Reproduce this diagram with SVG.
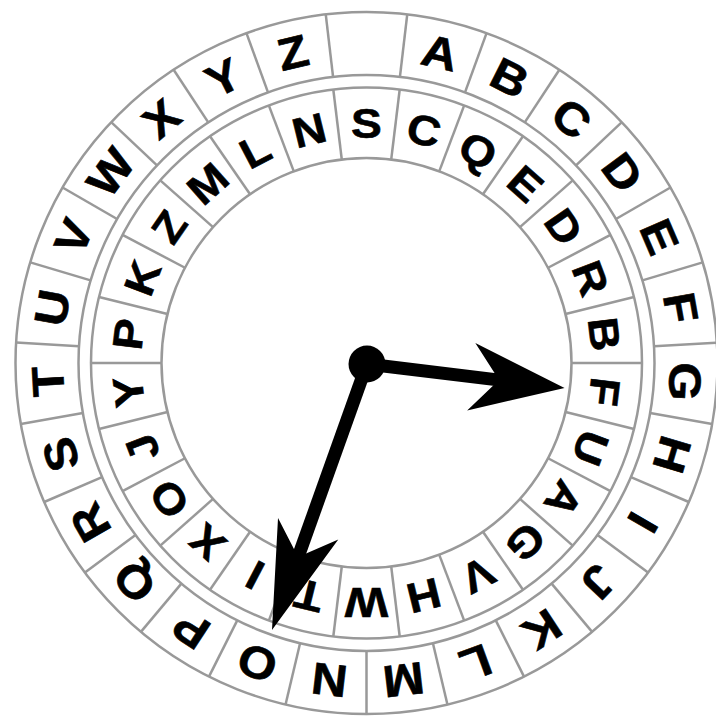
<svg xmlns="http://www.w3.org/2000/svg" width="716" height="717" viewBox="0 0 716 717">
<style>
.ring{fill:none;stroke:#999;stroke-width:2.5}
.div{stroke:#999;stroke-width:2.5}
.o{font-family:"Liberation Sans",Arial,sans-serif;font-weight:bold;font-size:45px;text-anchor:middle;fill:#000;stroke:#000;stroke-width:0.6}
.i{font-family:"Liberation Sans",Arial,sans-serif;font-weight:bold;font-size:42px;text-anchor:middle;fill:#000;stroke:#000;stroke-width:0.6}
</style>
<rect width="716" height="717" fill="#fff"/>
<g id="rings">
<circle class="ring" cx="366.5" cy="363" r="351"/>
<circle class="ring" cx="366.5" cy="363" r="288"/>
<circle class="ring" cx="366.5" cy="363" r="275.5"/>
<circle class="ring" cx="366.5" cy="363" r="205"/>
</g>
<g id="outer-dividers" class="div">
<line x1="366.5" y1="12" x2="366.5" y2="75" transform="rotate(6.667 366.5 363)"/>
<line x1="366.5" y1="12" x2="366.5" y2="75" transform="rotate(20 366.5 363)"/>
<line x1="366.5" y1="12" x2="366.5" y2="75" transform="rotate(33.333 366.5 363)"/>
<line x1="366.5" y1="12" x2="366.5" y2="75" transform="rotate(46.667 366.5 363)"/>
<line x1="366.5" y1="12" x2="366.5" y2="75" transform="rotate(60 366.5 363)"/>
<line x1="366.5" y1="12" x2="366.5" y2="75" transform="rotate(73.333 366.5 363)"/>
<line x1="366.5" y1="12" x2="366.5" y2="75" transform="rotate(86.667 366.5 363)"/>
<line x1="366.5" y1="12" x2="366.5" y2="75" transform="rotate(100 366.5 363)"/>
<line x1="366.5" y1="12" x2="366.5" y2="75" transform="rotate(113.333 366.5 363)"/>
<line x1="366.5" y1="12" x2="366.5" y2="75" transform="rotate(126.667 366.5 363)"/>
<line x1="366.5" y1="12" x2="366.5" y2="75" transform="rotate(140 366.5 363)"/>
<line x1="366.5" y1="12" x2="366.5" y2="75" transform="rotate(153.333 366.5 363)"/>
<line x1="366.5" y1="12" x2="366.5" y2="75" transform="rotate(166.667 366.5 363)"/>
<line x1="366.5" y1="12" x2="366.5" y2="75" transform="rotate(180 366.5 363)"/>
<line x1="366.5" y1="12" x2="366.5" y2="75" transform="rotate(193.333 366.5 363)"/>
<line x1="366.5" y1="12" x2="366.5" y2="75" transform="rotate(206.667 366.5 363)"/>
<line x1="366.5" y1="12" x2="366.5" y2="75" transform="rotate(220 366.5 363)"/>
<line x1="366.5" y1="12" x2="366.5" y2="75" transform="rotate(233.333 366.5 363)"/>
<line x1="366.5" y1="12" x2="366.5" y2="75" transform="rotate(246.667 366.5 363)"/>
<line x1="366.5" y1="12" x2="366.5" y2="75" transform="rotate(260 366.5 363)"/>
<line x1="366.5" y1="12" x2="366.5" y2="75" transform="rotate(273.333 366.5 363)"/>
<line x1="366.5" y1="12" x2="366.5" y2="75" transform="rotate(286.667 366.5 363)"/>
<line x1="366.5" y1="12" x2="366.5" y2="75" transform="rotate(300 366.5 363)"/>
<line x1="366.5" y1="12" x2="366.5" y2="75" transform="rotate(313.333 366.5 363)"/>
<line x1="366.5" y1="12" x2="366.5" y2="75" transform="rotate(326.667 366.5 363)"/>
<line x1="366.5" y1="12" x2="366.5" y2="75" transform="rotate(340 366.5 363)"/>
<line x1="366.5" y1="12" x2="366.5" y2="75" transform="rotate(353.333 366.5 363)"/>
</g>
<g id="inner-dividers" class="div">
<line x1="366.5" y1="87.5" x2="366.5" y2="158" transform="rotate(6.923 366.5 363)"/>
<line x1="366.5" y1="87.5" x2="366.5" y2="158" transform="rotate(20.769 366.5 363)"/>
<line x1="366.5" y1="87.5" x2="366.5" y2="158" transform="rotate(34.615 366.5 363)"/>
<line x1="366.5" y1="87.5" x2="366.5" y2="158" transform="rotate(48.462 366.5 363)"/>
<line x1="366.5" y1="87.5" x2="366.5" y2="158" transform="rotate(62.308 366.5 363)"/>
<line x1="366.5" y1="87.5" x2="366.5" y2="158" transform="rotate(76.154 366.5 363)"/>
<line x1="366.5" y1="87.5" x2="366.5" y2="158" transform="rotate(90 366.5 363)"/>
<line x1="366.5" y1="87.5" x2="366.5" y2="158" transform="rotate(103.846 366.5 363)"/>
<line x1="366.5" y1="87.5" x2="366.5" y2="158" transform="rotate(117.692 366.5 363)"/>
<line x1="366.5" y1="87.5" x2="366.5" y2="158" transform="rotate(131.538 366.5 363)"/>
<line x1="366.5" y1="87.5" x2="366.5" y2="158" transform="rotate(145.385 366.5 363)"/>
<line x1="366.5" y1="87.5" x2="366.5" y2="158" transform="rotate(159.231 366.5 363)"/>
<line x1="366.5" y1="87.5" x2="366.5" y2="158" transform="rotate(173.077 366.5 363)"/>
<line x1="366.5" y1="87.5" x2="366.5" y2="158" transform="rotate(186.923 366.5 363)"/>
<line x1="366.5" y1="87.5" x2="366.5" y2="158" transform="rotate(200.769 366.5 363)"/>
<line x1="366.5" y1="87.5" x2="366.5" y2="158" transform="rotate(214.615 366.5 363)"/>
<line x1="366.5" y1="87.5" x2="366.5" y2="158" transform="rotate(228.462 366.5 363)"/>
<line x1="366.5" y1="87.5" x2="366.5" y2="158" transform="rotate(242.308 366.5 363)"/>
<line x1="366.5" y1="87.5" x2="366.5" y2="158" transform="rotate(256.154 366.5 363)"/>
<line x1="366.5" y1="87.5" x2="366.5" y2="158" transform="rotate(270 366.5 363)"/>
<line x1="366.5" y1="87.5" x2="366.5" y2="158" transform="rotate(283.846 366.5 363)"/>
<line x1="366.5" y1="87.5" x2="366.5" y2="158" transform="rotate(297.692 366.5 363)"/>
<line x1="366.5" y1="87.5" x2="366.5" y2="158" transform="rotate(311.538 366.5 363)"/>
<line x1="366.5" y1="87.5" x2="366.5" y2="158" transform="rotate(325.385 366.5 363)"/>
<line x1="366.5" y1="87.5" x2="366.5" y2="158" transform="rotate(339.231 366.5 363)"/>
<line x1="366.5" y1="87.5" x2="366.5" y2="158" transform="rotate(353.077 366.5 363)"/>
</g>
<g id="outer-letters" class="o">
<text y="16.1" transform="rotate(13.333 366.5 363) translate(366.5 43.5) scale(1.1 1)">A</text>
<text y="16.1" transform="rotate(26.667 366.5 363) translate(366.5 43.5) scale(1.1 1)">B</text>
<text y="16.1" transform="rotate(40 366.5 363) translate(366.5 43.5) scale(1.1 1)">C</text>
<text y="16.1" transform="rotate(53.333 366.5 363) translate(366.5 43.5) scale(1.1 1)">D</text>
<text y="16.1" transform="rotate(66.667 366.5 363) translate(366.5 43.5) scale(1.1 1)">E</text>
<text y="16.1" transform="rotate(80 366.5 363) translate(366.5 43.5) scale(1.1 1)">F</text>
<text y="16.1" transform="rotate(93.333 366.5 363) translate(366.5 43.5) scale(1.1 1)">G</text>
<text y="16.1" transform="rotate(106.667 366.5 363) translate(366.5 43.5) scale(1.1 1)">H</text>
<text y="16.1" transform="rotate(120 366.5 363) translate(366.5 43.5) scale(1.1 1)">I</text>
<text y="16.1" transform="rotate(133.333 366.5 363) translate(366.5 43.5) scale(1.1 1)">J</text>
<text y="16.1" transform="rotate(146.667 366.5 363) translate(366.5 43.5) scale(1.1 1)">K</text>
<text y="16.1" transform="rotate(160 366.5 363) translate(366.5 43.5) scale(1.1 1)">L</text>
<text y="16.1" transform="rotate(173.333 366.5 363) translate(366.5 43.5) scale(1.1 1)">M</text>
<text y="16.1" transform="rotate(186.667 366.5 363) translate(366.5 43.5) scale(1.1 1)">N</text>
<text y="16.1" transform="rotate(200 366.5 363) translate(366.5 43.5) scale(1.1 1)">O</text>
<text y="16.1" transform="rotate(213.333 366.5 363) translate(366.5 43.5) scale(1.1 1)">P</text>
<text y="16.1" transform="rotate(226.667 366.5 363) translate(366.5 43.5) scale(1.1 1)">Q</text>
<text y="16.1" transform="rotate(240 366.5 363) translate(366.5 43.5) scale(1.1 1)">R</text>
<text y="16.1" transform="rotate(253.333 366.5 363) translate(366.5 43.5) scale(1.1 1)">S</text>
<text y="16.1" transform="rotate(266.667 366.5 363) translate(366.5 43.5) scale(1.1 1)">T</text>
<text y="16.1" transform="rotate(280 366.5 363) translate(366.5 43.5) scale(1.1 1)">U</text>
<text y="16.1" transform="rotate(293.333 366.5 363) translate(366.5 43.5) scale(1.1 1)">V</text>
<text y="16.1" transform="rotate(306.667 366.5 363) translate(366.5 43.5) scale(1.1 1)">W</text>
<text y="16.1" transform="rotate(320 366.5 363) translate(366.5 43.5) scale(1.1 1)">X</text>
<text y="16.1" transform="rotate(333.333 366.5 363) translate(366.5 43.5) scale(1.1 1)">Y</text>
<text y="16.1" transform="rotate(346.667 366.5 363) translate(366.5 43.5) scale(1.1 1)">Z</text>
</g>
<g id="inner-letters" class="i">
<text y="15" transform="rotate(0 366.5 363) translate(366.5 123) scale(1.1 1)">S</text>
<text y="15" transform="rotate(13.846 366.5 363) translate(366.5 123) scale(1.1 1)">C</text>
<text y="15" transform="rotate(27.692 366.5 363) translate(366.5 123) scale(1.1 1)">Q</text>
<text y="15" transform="rotate(41.538 366.5 363) translate(366.5 123) scale(1.1 1)">E</text>
<text y="15" transform="rotate(55.385 366.5 363) translate(366.5 123) scale(1.1 1)">D</text>
<text y="15" transform="rotate(69.231 366.5 363) translate(366.5 123) scale(1.1 1)">R</text>
<text y="15" transform="rotate(83.077 366.5 363) translate(366.5 123) scale(1.1 1)">B</text>
<text y="15" transform="rotate(96.923 366.5 363) translate(366.5 123) scale(1.1 1)">F</text>
<text y="15" transform="rotate(110.769 366.5 363) translate(366.5 123) scale(1.1 1)">U</text>
<text y="15" transform="rotate(124.615 366.5 363) translate(366.5 123) scale(1.1 1)">A</text>
<text y="15" transform="rotate(138.462 366.5 363) translate(366.5 123) scale(1.1 1)">G</text>
<text y="15" transform="rotate(152.308 366.5 363) translate(366.5 123) scale(1.1 1)">V</text>
<text y="15" transform="rotate(166.154 366.5 363) translate(366.5 123) scale(1.1 1)">H</text>
<text y="15" transform="rotate(180 366.5 363) translate(366.5 123) scale(1.1 1)">W</text>
<text y="15" transform="rotate(193.846 366.5 363) translate(366.5 123) scale(1.1 1)">T</text>
<text y="15" transform="rotate(207.692 366.5 363) translate(366.5 123) scale(1.1 1)">I</text>
<text y="15" transform="rotate(221.538 366.5 363) translate(366.5 123) scale(1.1 1)">X</text>
<text y="15" transform="rotate(235.385 366.5 363) translate(366.5 123) scale(1.1 1)">O</text>
<text y="15" transform="rotate(249.231 366.5 363) translate(366.5 123) scale(1.1 1)">J</text>
<text y="15" transform="rotate(263.077 366.5 363) translate(366.5 123) scale(1.1 1)">Y</text>
<text y="15" transform="rotate(276.923 366.5 363) translate(366.5 123) scale(1.1 1)">P</text>
<text y="15" transform="rotate(290.769 366.5 363) translate(366.5 123) scale(1.1 1)">K</text>
<text y="15" transform="rotate(304.615 366.5 363) translate(366.5 123) scale(1.1 1)">Z</text>
<text y="15" transform="rotate(318.462 366.5 363) translate(366.5 123) scale(1.1 1)">M</text>
<text y="15" transform="rotate(332.308 366.5 363) translate(366.5 123) scale(1.1 1)">L</text>
<text y="15" transform="rotate(346.154 366.5 363) translate(366.5 123) scale(1.1 1)">N</text>
</g>
<g id="hands">
<g id="hand-right" transform="translate(367 364) rotate(6.91)">
<line x1="0" y1="0" x2="140" y2="0" stroke="#000" stroke-width="13"/>
<polygon points="199,0 105,-34 133,0 105,34" fill="#000"/>
</g>
<g id="hand-down" transform="translate(367 364) rotate(109.65)">
<line x1="0" y1="0" x2="210" y2="0" stroke="#000" stroke-width="13"/>
<polygon points="282.5,0 175,-32 205,0 175,32" fill="#000"/>
</g>
<circle id="hub" cx="367" cy="364" r="18.5" fill="#000"/>
</g>
</svg>
